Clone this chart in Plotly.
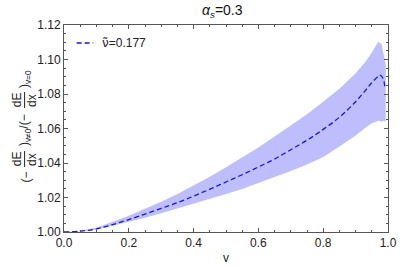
import plotly.graph_objects as go

# ---- data ----
v_center = [0.0, 0.05, 0.1, 0.15, 0.2, 0.25, 0.3, 0.35, 0.4, 0.45, 0.5, 0.55, 0.6, 0.65,
            0.7, 0.75, 0.8, 0.85, 0.9, 0.93, 0.95, 0.97, 0.975, 0.985, 0.99]
ratio_center = [1.0, 1.0005, 1.0018, 1.0043, 1.0072, 1.0104, 1.0137, 1.0170, 1.0208, 1.0248,
                1.0290, 1.0332, 1.0377, 1.0423, 1.0477, 1.0532, 1.0595, 1.0665, 1.0755,
                1.0820, 1.0865, 1.0903, 1.0910, 1.0890, 1.0842]

v_band = [0.0, 0.05, 0.1, 0.15, 0.2, 0.25, 0.3, 0.35, 0.4, 0.45, 0.5, 0.55, 0.6, 0.65,
          0.7, 0.75, 0.8, 0.85, 0.9, 0.93, 0.95, 0.97, 0.98, 0.99, 0.993]
band_upper = [1.0, 1.0007, 1.0025, 1.0058, 1.0094, 1.0135, 1.0175, 1.0220, 1.0268, 1.0320,
              1.0375, 1.0432, 1.0490, 1.0553, 1.0615, 1.0682, 1.0755, 1.0830, 1.0920,
              1.0985, 1.1040, 1.1103, 1.1090, 1.1010, 1.0970]
band_lower = [1.0, 1.0003, 1.0013, 1.0035, 1.0060, 1.0083, 1.0108, 1.0135, 1.0162, 1.0190,
              1.0220, 1.0250, 1.0283, 1.0318, 1.0353, 1.0392, 1.0435, 1.0495, 1.0560,
              1.0605, 1.0630, 1.0645, 1.0640, 1.0645, 1.0635]

title_text = "<i>α</i><sub><i>s</i></sub>=0.3"
legend_label = "<span style=\"font-family:'DejaVu Sans'\">ν̃</span>=0.177"
x_title = "v"

# ---- geometry helpers for decorations (pixel -> paper) ----
W, H = 407, 267
ML, MR, MT, MB = 64, 10, 25, 35
PW, PH = W - ML - MR, H - MT - MB


def px(xpix):
    return (xpix - ML) / PW


def py(ypix):
    return (H - MB - ypix) / PH


FONT = "Liberation Sans, Arial, sans-serif"
band_color = "rgba(190,190,252,1)"
line_color = "rgb(20,20,235)"

fig = go.Figure()
fig.add_trace(go.Scatter(x=v_band, y=band_lower, mode="lines", line=dict(width=0, color=band_color),
                         showlegend=False, hoverinfo="skip"))
fig.add_trace(go.Scatter(x=v_band, y=band_upper, mode="lines", line=dict(width=0, color=band_color),
                         fill="tonexty", fillcolor=band_color, showlegend=False, hoverinfo="skip"))
fig.add_trace(go.Scatter(x=v_center, y=ratio_center, mode="lines", line_shape="spline",
                         line=dict(color=line_color, width=1.3, dash="5px,3px"),
                         showlegend=False, name="center"))

axis_common = dict(
    showline=True, linecolor="#555", linewidth=1, mirror="allticks",
    ticks="inside", ticklen=4, tickcolor="#555", tickwidth=1,
    showgrid=False, zeroline=False,
    tickfont=dict(family=FONT, size=12, color="#222"),
)

fig.update_xaxes(range=[0, 1], dtick=0.2, tick0=0, tickformat=".1f",
                 minor=dict(dtick=0.05, ticks="inside", ticklen=2, tickcolor="#555", showgrid=False),
                 **axis_common)
fig.update_yaxes(range=[1.0, 1.12], dtick=0.02, tick0=1.0, tickformat=".2f",
                 minor=dict(dtick=0.005, ticks="inside", ticklen=2, tickcolor="#555", showgrid=False),
                 **axis_common)

annotations = []
# title
annotations.append(dict(text=title_text, xref="paper", yref="paper", x=px(227), y=py(11),
                        showarrow=False, font=dict(family=FONT, size=14, color="#111"),
                        xanchor="center", yanchor="middle"))
# x title
annotations.append(dict(text=x_title, xref="paper", yref="paper", x=px(230), y=py(258),
                        showarrow=False, font=dict(family=FONT, size=12, color="#222"),
                        xanchor="center", yanchor="middle"))
# legend label
annotations.append(dict(text=legend_label, xref="paper", yref="paper", x=px(101), y=py(43),
                        showarrow=False, font=dict(family=FONT, size=12, color="#222"),
                        xanchor="left", yanchor="middle"))

# y-axis label built from pieces (rotated)
yl_font = dict(family=FONT, size=12, color="#222")
main_x = 24
pieces = [
    ("(−", 185),
    (")<sub>v≠0</sub>/(−", 148),
    (")<sub>v=0</sub>", 90),
]
for txt, ybottom in pieces:
    annotations.append(dict(text=txt, xref="paper", yref="paper", x=px(main_x), y=py(ybottom),
                            showarrow=False, textangle=-90, font=yl_font,
                            xanchor="center", yanchor="bottom"))
frac_centers = [159, 100]
for yc in frac_centers:
    annotations.append(dict(text="dE", xref="paper", yref="paper", x=px(16), y=py(yc),
                            showarrow=False, textangle=-90, font=yl_font,
                            xanchor="center", yanchor="middle"))
    annotations.append(dict(text="dx", xref="paper", yref="paper", x=px(31), y=py(yc),
                            showarrow=False, textangle=-90, font=yl_font,
                            xanchor="center", yanchor="middle"))

shapes = []
for yc in frac_centers:
    shapes.append(dict(type="line", xref="paper", yref="paper",
                       x0=px(main_x - 0.5), x1=px(main_x - 0.5), y0=py(yc + 8), y1=py(yc - 8),
                       line=dict(color="#222", width=1)))
# legend swatch
shapes.append(dict(type="line", xref="paper", yref="paper", x0=px(77), x1=px(94), y0=py(43), y1=py(43),
                   line=dict(color=line_color, width=1.3, dash="5px,3px")))

fig.update_layout(
    width=W, height=H,
    margin=dict(l=ML, r=MR, t=MT, b=MB),
    paper_bgcolor="white", plot_bgcolor="white",
    showlegend=False,
    annotations=annotations,
    shapes=shapes,
)

fig.write_html("out.html", config={"displayModeBar": False},
               post_script="document.body.style.margin='0px';document.body.style.overflow='hidden';")
